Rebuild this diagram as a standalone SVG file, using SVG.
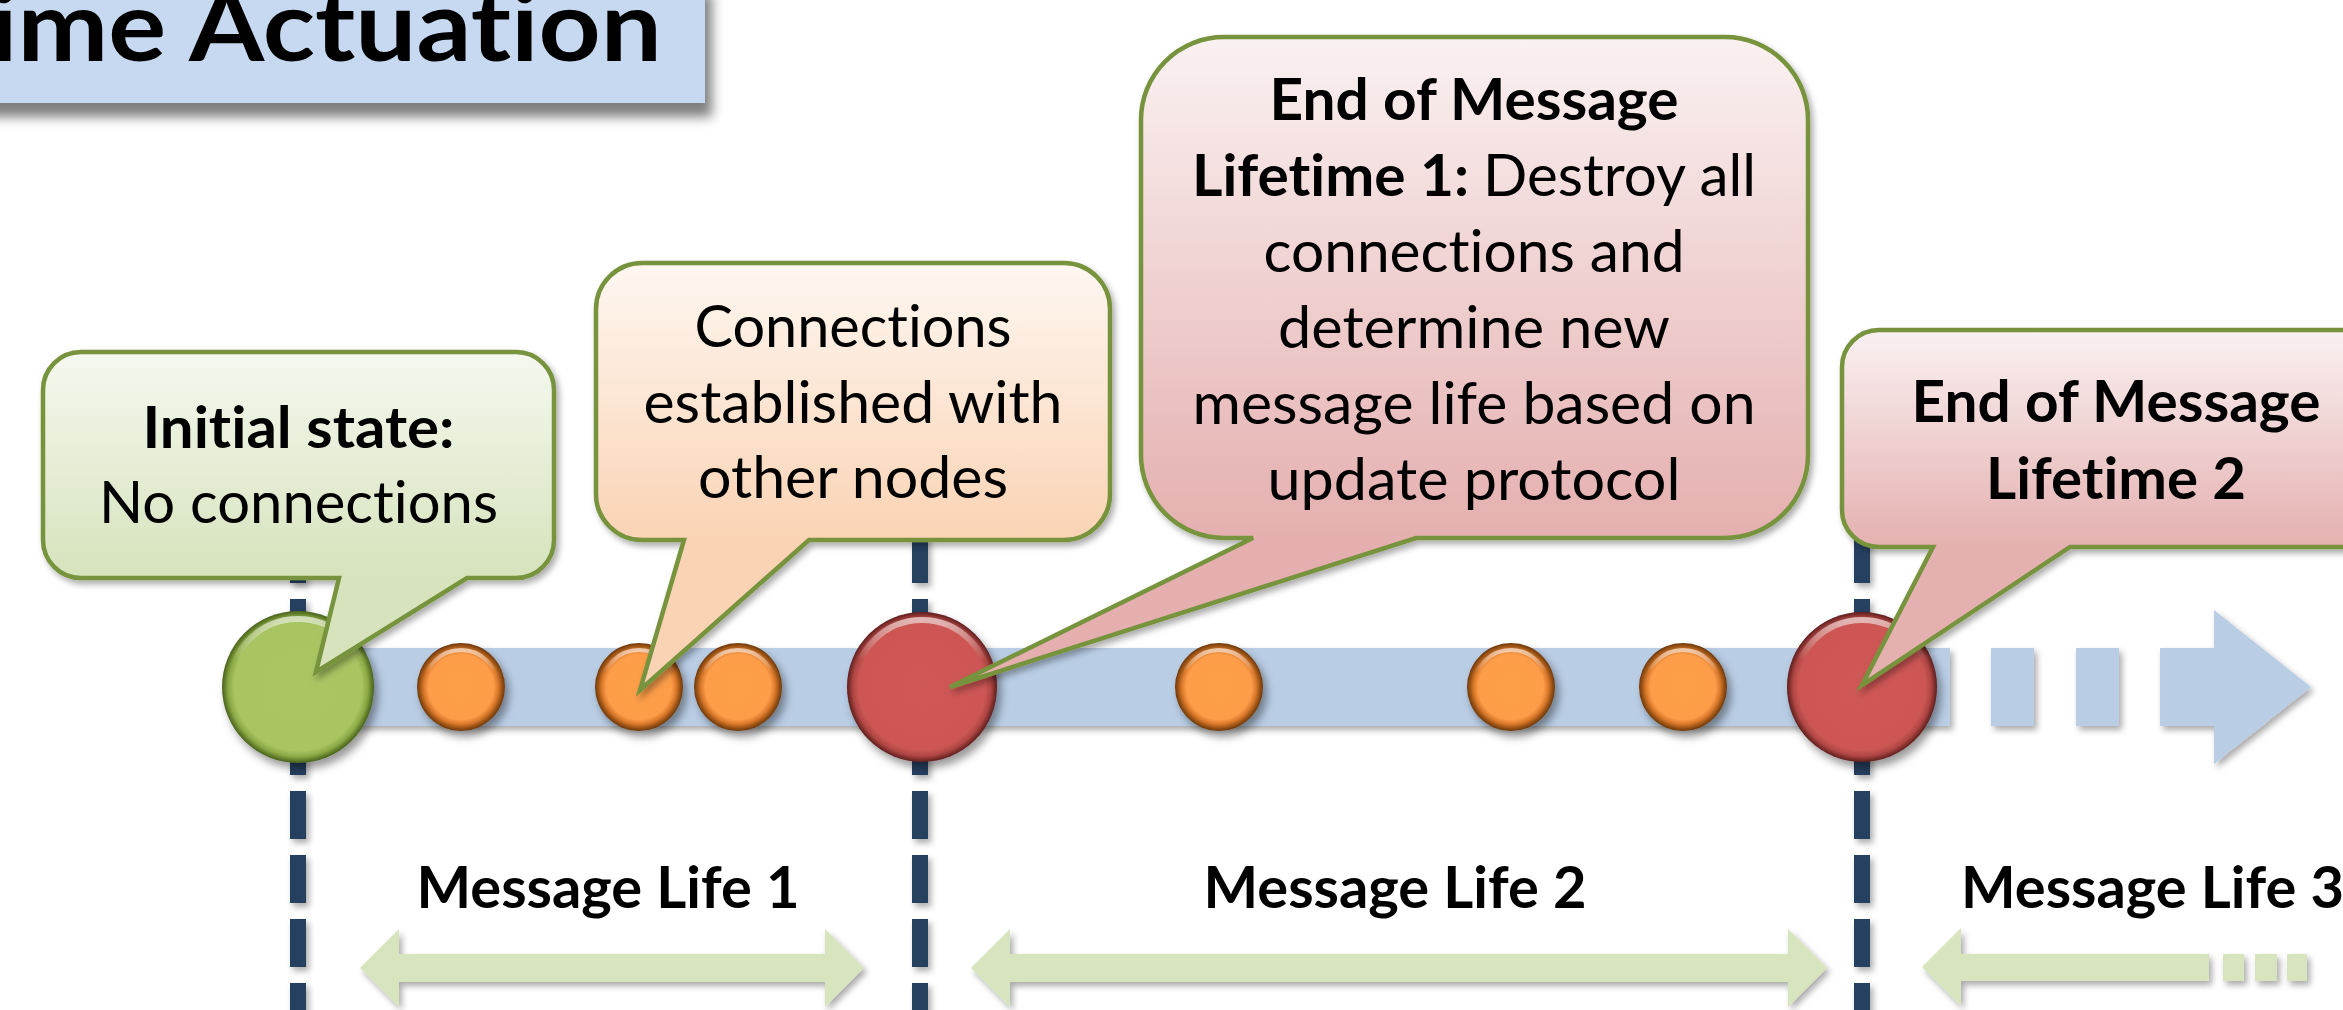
<svg xmlns="http://www.w3.org/2000/svg" width="2343" height="1010" viewBox="0 0 2343 1010">
<style>
.t{font-family:Lato,"Liberation Sans",sans-serif;fill:#000;font-variant-ligatures:none;font-feature-settings:"liga" 0,"clig" 0,"dlig" 0}
.b{font-weight:700}
.r{font-weight:400}
.c{font-size:58px}
.cm{text-anchor:middle}
.co{stroke:#77933c;stroke-width:4.5;stroke-linejoin:miter}
.dash{stroke:#254061;stroke-width:16;stroke-dasharray:48 16}
.ga{fill:#d7e4bd}
.bar{fill:#b9cde5}
</style>
<defs>
<filter id="sh" filterUnits="userSpaceOnUse" x="-50" y="-50" width="2450" height="1110">
<feGaussianBlur in="SourceAlpha" stdDeviation="3"/>
<feOffset dx="3" dy="4" result="o"/>
<feFlood flood-color="#000" flood-opacity="0.33"/>
<feComposite in2="o" operator="in"/>
<feMerge><feMergeNode/><feMergeNode in="SourceGraphic"/></feMerge>
</filter>
<filter id="shc" filterUnits="userSpaceOnUse" x="-50" y="-50" width="2450" height="1110">
<feGaussianBlur in="SourceAlpha" stdDeviation="4"/>
<feOffset dx="4" dy="6" result="o"/>
<feFlood flood-color="#000" flood-opacity="0.4"/>
<feComposite in2="o" operator="in"/>
<feMerge><feMergeNode/><feMergeNode in="SourceGraphic"/></feMerge>
</filter>
<filter id="sht" filterUnits="userSpaceOnUse" x="-50" y="-50" width="900" height="300">
<feGaussianBlur in="SourceAlpha" stdDeviation="6"/>
<feOffset dx="7" dy="14" result="o"/>
<feFlood flood-color="#000" flood-opacity="0.5"/>
<feComposite in2="o" operator="in"/>
<feMerge><feMergeNode/><feMergeNode in="SourceGraphic"/></feMerge>
</filter>
<radialGradient id="gRed" cx="50%" cy="50%" r="50%">
<stop offset="0" stop-color="#ce5855"/><stop offset="0.84" stop-color="#cd5754"/><stop offset="0.92" stop-color="#b04744"/><stop offset="0.97" stop-color="#7d2d2b"/><stop offset="1" stop-color="#5e2020"/>
</radialGradient>
<radialGradient id="gGreen" cx="50%" cy="50%" r="50%">
<stop offset="0" stop-color="#a9c663"/><stop offset="0.84" stop-color="#a8c562"/><stop offset="0.92" stop-color="#8aa845"/><stop offset="0.97" stop-color="#5f7a28"/><stop offset="1" stop-color="#4a6320"/>
</radialGradient>
<radialGradient id="gOrange" cx="50%" cy="50%" r="50%">
<stop offset="0" stop-color="#fd9e4a"/><stop offset="0.74" stop-color="#fd9d49"/><stop offset="0.85" stop-color="#d8772a"/><stop offset="0.94" stop-color="#955013"/><stop offset="1" stop-color="#6e380e"/>
</radialGradient>
<linearGradient id="hl" x1="0" y1="0" x2="0" y2="1">
<stop offset="0" stop-color="#fff" stop-opacity="0.6"/><stop offset="0.3" stop-color="#fff" stop-opacity="0"/>
</linearGradient>
<linearGradient id="fG" gradientUnits="userSpaceOnUse" x1="0" y1="352" x2="0" y2="578">
<stop offset="0" stop-color="#f5f8ef"/><stop offset="1" stop-color="#d6e3bc"/>
</linearGradient>
<linearGradient id="fO" gradientUnits="userSpaceOnUse" x1="0" y1="263" x2="0" y2="540">
<stop offset="0" stop-color="#fef7f1"/><stop offset="1" stop-color="#fad3b4"/>
</linearGradient>
<linearGradient id="fR1" gradientUnits="userSpaceOnUse" x1="0" y1="37" x2="0" y2="538">
<stop offset="0" stop-color="#faf1f1"/><stop offset="1" stop-color="#e5afaf"/>
</linearGradient>
<linearGradient id="fR2" gradientUnits="userSpaceOnUse" x1="0" y1="330" x2="0" y2="547">
<stop offset="0" stop-color="#faf1f1"/><stop offset="1" stop-color="#e5b0b0"/>
</linearGradient>
</defs>
<rect width="2343" height="1010" fill="#fff"/>

<g id="title">
<rect x="-20" y="-20" width="725" height="123" fill="#c6d9f1" filter="url(#sht)"/>
<text class="t b" x="-10" y="61" font-size="97" textLength="672" lengthAdjust="spacingAndGlyphs">ime Actuation</text>
</g>

<g id="timeline" filter="url(#sh)">
<rect class="bar" x="298" y="648" width="1652" height="78"/>
<rect class="bar" x="1991" y="648" width="43" height="78"/>
<rect class="bar" x="2076" y="648" width="43" height="78"/>
<polygon class="bar" points="2160,648 2214,648 2214,610 2311,687 2214,764 2214,726 2160,726"/>
</g>

<g id="connectors">
<g filter="url(#sh)">
<line class="dash" x1="298" y1="535" x2="298" y2="1040"/>
<line class="dash" x1="920" y1="535" x2="920" y2="1040"/>
<line class="dash" x1="1862" y1="535" x2="1862" y2="1040"/>
</g>
<g filter="url(#sh)">
<polygon id="life1-arrow" class="ga" points="360,968 399,929 399,954 825,954 825,929 864,968 825,1007 825,982 399,982 399,1007"/>
<polygon id="life2-arrow" class="ga" points="971,968 1010,929 1010,954 1788,954 1788,929 1827,968 1788,1007 1788,982 1010,982 1010,1007"/>
<g id="life3-arrow">
<polygon class="ga" points="1922,967 1961,928 1961,954 2209,954 2209,981 1961,981 1961,1006"/>
<rect class="ga" x="2223" y="954" width="21" height="27"/>
<rect class="ga" x="2255" y="954" width="22" height="27"/>
<rect class="ga" x="2287" y="954" width="20" height="27"/>
</g>
</g>
</g>

<g id="nodes">
<g id="n-start" filter="url(#shc)">
<circle cx="298" cy="687" r="76" fill="url(#gGreen)"/>
<circle cx="298" cy="687" r="68" fill="none" stroke="url(#hl)" stroke-width="6"/>
</g>
<g id="n-o1" filter="url(#shc)">
<circle cx="461" cy="687" r="44" fill="url(#gOrange)"/>
<circle cx="461" cy="687" r="37" fill="none" stroke="url(#hl)" stroke-width="4"/>
</g>
<g id="n-o2" filter="url(#shc)">
<circle cx="639" cy="687" r="44" fill="url(#gOrange)"/>
<circle cx="639" cy="687" r="37" fill="none" stroke="url(#hl)" stroke-width="4"/>
</g>
<g id="n-o3" filter="url(#shc)">
<circle cx="738" cy="687" r="44" fill="url(#gOrange)"/>
<circle cx="738" cy="687" r="37" fill="none" stroke="url(#hl)" stroke-width="4"/>
</g>
<g id="n-end1" filter="url(#shc)">
<circle cx="922" cy="687" r="75" fill="url(#gRed)"/>
<circle cx="922" cy="687" r="67" fill="none" stroke="url(#hl)" stroke-width="6"/>
</g>
<g id="n-o4" filter="url(#shc)">
<circle cx="1219" cy="687" r="44" fill="url(#gOrange)"/>
<circle cx="1219" cy="687" r="37" fill="none" stroke="url(#hl)" stroke-width="4"/>
</g>
<g id="n-o5" filter="url(#shc)">
<circle cx="1511" cy="687" r="44" fill="url(#gOrange)"/>
<circle cx="1511" cy="687" r="37" fill="none" stroke="url(#hl)" stroke-width="4"/>
</g>
<g id="n-o6" filter="url(#shc)">
<circle cx="1683" cy="687" r="44" fill="url(#gOrange)"/>
<circle cx="1683" cy="687" r="37" fill="none" stroke="url(#hl)" stroke-width="4"/>
</g>
<g id="n-end2" filter="url(#shc)">
<circle cx="1862" cy="687" r="75" fill="url(#gRed)"/>
<circle cx="1862" cy="687" r="67" fill="none" stroke="url(#hl)" stroke-width="6"/>
</g>
</g>

<g id="callout-initial">
<path class="co" fill="url(#fG)" filter="url(#sh)" d="M81,352 H516 A38,38 0 0 1 554,390 V540 A38,38 0 0 1 516,578 H467 L316,672 L339,578 H81 A38,38 0 0 1 43,540 V390 A38,38 0 0 1 81,352 Z"/>
<text class="t b c cm" x="298.5" y="448" textLength="312" lengthAdjust="spacingAndGlyphs">Initial state:</text>
<text class="t r c cm" x="298.5" y="523" textLength="399" lengthAdjust="spacingAndGlyphs">No connections</text>
</g>

<g id="callout-connections">
<path class="co" fill="url(#fO)" filter="url(#sh)" d="M642,263 H1064 A46,46 0 0 1 1110,309 V494 A46,46 0 0 1 1064,540 H809 L640,690 L684,540 H642 A46,46 0 0 1 596,494 V309 A46,46 0 0 1 642,263 Z"/>
<text class="t r c cm" x="853" y="347" textLength="317" lengthAdjust="spacingAndGlyphs">Connections</text>
<text class="t r c cm" x="853" y="423" textLength="419" lengthAdjust="spacingAndGlyphs">established with</text>
<text class="t r c cm" x="853" y="498" textLength="310" lengthAdjust="spacingAndGlyphs">other nodes</text>
</g>

<g id="callout-end1">
<path class="co" fill="url(#fR1)" filter="url(#sh)" d="M1224,37 H1725 A83,83 0 0 1 1808,120 V455 A83,83 0 0 1 1725,538 H1416 L950,687 L1253,538 H1224 A83,83 0 0 1 1141,455 V120 A83,83 0 0 1 1224,37 Z"/>
<text class="t b c cm" x="1474" y="120" textLength="409" lengthAdjust="spacingAndGlyphs">End of Message</text>
<text class="t b c" x="1192" y="196" textLength="277" lengthAdjust="spacingAndGlyphs">Lifetime 1:</text>
<text class="t r c" x="1483" y="196" textLength="273" lengthAdjust="spacingAndGlyphs">Destroy all</text>
<text class="t r c cm" x="1474" y="272" textLength="421" lengthAdjust="spacingAndGlyphs">connections and</text>
<text class="t r c cm" x="1474" y="348" textLength="392" lengthAdjust="spacingAndGlyphs">determine new</text>
<text class="t r c cm" x="1474" y="424" textLength="563" lengthAdjust="spacingAndGlyphs">message life based on</text>
<text class="t r c cm" x="1474" y="500" textLength="413" lengthAdjust="spacingAndGlyphs">update protocol</text>
</g>

<g id="callout-end2">
<path class="co" fill="url(#fR2)" filter="url(#sh)" d="M1879,330 H2358 A37,37 0 0 1 2395,367 V510 A37,37 0 0 1 2358,547 H2070 L1862,685 L1933,547 H1879 A37,37 0 0 1 1842,510 V367 A37,37 0 0 1 1879,330 Z"/>
<text class="t b c cm" x="2116" y="422" textLength="409" lengthAdjust="spacingAndGlyphs">End of Message</text>
<text class="t b c cm" x="2116" y="499" textLength="260" lengthAdjust="spacingAndGlyphs">Lifetime 2</text>
</g>

<g id="labels">
<text class="t b c cm" x="608" y="908" textLength="383" lengthAdjust="spacingAndGlyphs">Message Life 1</text>
<text class="t b c cm" x="1395" y="908" textLength="383" lengthAdjust="spacingAndGlyphs">Message Life 2</text>
<text class="t b c" x="1961" y="908" textLength="383" lengthAdjust="spacingAndGlyphs">Message Life 3</text>
</g>
</svg>
